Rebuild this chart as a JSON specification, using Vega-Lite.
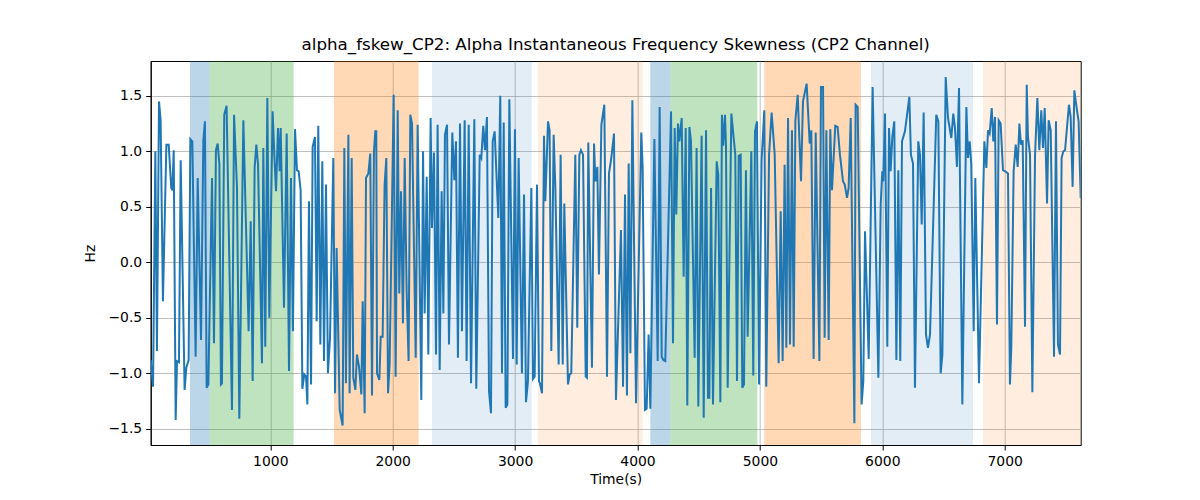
{
  "$schema": "https://vega.github.io/schema/vega-lite/v6.json",
  "width": 930,
  "height": 384,
  "autosize": {"type": "none"},
  "padding": {"left": 150.7, "top": 61, "right": 119.3, "bottom": 55},
  "title": {"text": "alpha_fskew_CP2: Alpha Instantaneous Frequency Skewness (CP2 Channel)", "font": "DejaVu Sans", "fontSize": 16.7, "fontWeight": "normal", "color": "black", "offset": 7},
  "config": {
    "view": {"stroke": "black", "strokeWidth": 1},
    "axis": {"domainColor": "black", "tickColor": "black", "tickSize": 5, "tickWidth": 1, "labelFont": "DejaVu Sans", "labelFontSize": 13.9, "labelColor": "black", "titleFont": "DejaVu Sans", "titleFontSize": 13.9, "titleFontWeight": "normal", "titleColor": "black", "gridColor": "#b0b0b0", "gridWidth": 0.8, "labelPadding": 4}
  },
  "datasets": {
    "spans": [
      {"start": 344, "end": 505, "phase": "A"},
      {"start": 505, "end": 1191, "phase": "B"},
      {"start": 1520, "end": 2212, "phase": "C"},
      {"start": 2321, "end": 3135, "phase": "D"},
      {"start": 3187, "end": 4042, "phase": "E"},
      {"start": 4105, "end": 4268, "phase": "A"},
      {"start": 4268, "end": 4979, "phase": "B"},
      {"start": 5036, "end": 5826, "phase": "C"},
      {"start": 5908, "end": 6741, "phase": "D"},
      {"start": 6823, "end": 7621, "phase": "E"}
    ],
    "series": [
      {"t":23,"v":-0.88},{"t":42,"v":-1.12},{"t":61,"v":1.0},{"t":74,"v":-0.8},{"t":91,"v":1.45},{"t":104,"v":1.28},{"t":123,"v":-0.35},{"t":151,"v":1.06},{"t":170,"v":1.06},{"t":191,"v":0.67},{"t":200,"v":0.65},{"t":211,"v":1.01},{"t":227,"v":-1.42},{"t":238,"v":-0.89},{"t":254,"v":-0.9},{"t":268,"v":0.92},{"t":300,"v":-1.15},{"t":314,"v":-0.95},{"t":333,"v":-0.88},{"t":347,"v":1.11},{"t":363,"v":1.09},{"t":390,"v":-0.85},{"t":407,"v":0.76},{"t":434,"v":-0.7},{"t":453,"v":1.1},{"t":466,"v":1.27},{"t":480,"v":-1.13},{"t":494,"v":-1.1},{"t":524,"v":0.76},{"t":540,"v":-0.73},{"t":556,"v":1.01},{"t":570,"v":1.07},{"t":584,"v":0.89},{"t":597,"v":-1.1},{"t":605,"v":-1.09},{"t":624,"v":1.33},{"t":643,"v":1.41},
      {"t":687,"v":-1.33},{"t":704,"v":1.33},{"t":728,"v":0.67},{"t":747,"v":-1.41},{"t":780,"v":1.28},{"t":823,"v":-0.62},{"t":840,"v":0.37},{"t":856,"v":-1.07},{"t":872,"v":0.85},{"t":886,"v":1.06},{"t":900,"v":0.88},{"t":932,"v":-0.91},{"t":943,"v":1.03},{"t":959,"v":-0.76},{"t":976,"v":1.48},{"t":992,"v":-0.5},{"t":1019,"v":1.36},{"t":1033,"v":0.97},{"t":1047,"v":0.64},{"t":1063,"v":1.21},{"t":1077,"v":0.82},{"t":1085,"v":1.21},{"t":1112,"v":-0.41},{"t":1134,"v":1.16},{"t":1153,"v":-0.98},{"t":1169,"v":0.76},{"t":1185,"v":-0.62},{"t":1202,"v":1.2},{"t":1218,"v":0.83},{"t":1232,"v":0.82},{"t":1248,"v":0.65},{"t":1262,"v":-1.14},{"t":1278,"v":-1.01},{"t":1292,"v":-1.03},
      {"t":1303,"v":-1.28},{"t":1316,"v":0.55},{"t":1333,"v":-1.1},{"t":1346,"v":1.04},{"t":1365,"v":1.13},{"t":1379,"v":-0.53},{"t":1392,"v":1.23},{"t":1409,"v":-0.74},{"t":1425,"v":0.91},{"t":1439,"v":-0.89},{"t":1455,"v":0.7},{"t":1471,"v":-1.0},{"t":1488,"v":-0.68},{"t":1515,"v":0.94},{"t":1529,"v":-1.18},{"t":1542,"v":0.13},{"t":1567,"v":-1.33},{"t":1591,"v":-1.47},{"t":1605,"v":1.03},{"t":1618,"v":-1.09},{"t":1638,"v":1.15},{"t":1648,"v":-1.18},{"t":1665,"v":0.94},{"t":1678,"v":-1.04},{"t":1695,"v":-1.15},{"t":1708,"v":-0.83},{"t":1725,"v":-0.94},{"t":1744,"v":-1.19},{"t":1755,"v":-0.35},{"t":1771,"v":-1.36},{"t":1782,"v":0.76},{"t":1801,"v":0.8},{"t":1817,"v":0.98},{"t":1831,"v":-1.2},{"t":1847,"v":1.0},{"t":1858,"v":1.18},{"t":1866,"v":1.18},{"t":1872,"v":-1.0},{"t":1891,"v":-1.06},{"t":1902,"v":-0.67},{"t":1918,"v":-0.67},
      {"t":1934,"v":0.7},{"t":1948,"v":0.94},{"t":1962,"v":-1.18},{"t":1975,"v":-0.92},{"t":2008,"v":1.51},{"t":2024,"v":-1.03},{"t":2041,"v":1.37},{"t":2054,"v":-0.28},{"t":2068,"v":0.64},{"t":2084,"v":-0.55},{"t":2098,"v":0.94},{"t":2114,"v":-0.26},{"t":2130,"v":-0.89},{"t":2144,"v":1.33},{"t":2158,"v":1.25},{"t":2188,"v":-0.86},{"t":2204,"v":1.24},{"t":2234,"v":-1.24},{"t":2248,"v":1.0},{"t":2261,"v":-0.46},{"t":2278,"v":0.77},{"t":2291,"v":-0.83},{"t":2310,"v":1.3},{"t":2321,"v":0.31},{"t":2337,"v":0.99},{"t":2354,"v":-0.83},{"t":2367,"v":1.24},{"t":2384,"v":-0.97},{"t":2400,"v":0.64},{"t":2414,"v":-0.46},{"t":2427,"v":1.15},{"t":2444,"v":1.24},{"t":2460,"v":-0.74},{"t":2487,"v":1.17},{"t":2504,"v":0.74},{"t":2517,"v":1.09},{"t":2533,"v":-0.86},{"t":2550,"v":1.25},
      {"t":2566,"v":-0.62},{"t":2588,"v":1.28},{"t":2604,"v":-0.89},{"t":2621,"v":1.24},{"t":2640,"v":-1.09},{"t":2667,"v":1.29},{"t":2683,"v":-1.14},{"t":2711,"v":0.97},{"t":2724,"v":0.94},{"t":2740,"v":1.23},{"t":2754,"v":1.01},{"t":2770,"v":1.31},{"t":2787,"v":-1.16},{"t":2803,"v":-1.36},{"t":2817,"v":1.09},{"t":2833,"v":1.18},{"t":2863,"v":0.4},{"t":2879,"v":1.5},{"t":2893,"v":-1.0},{"t":2907,"v":1.26},{"t":2923,"v":-1.31},{"t":2937,"v":-1.28},{"t":2953,"v":1.47},{"t":2983,"v":-0.87},{"t":2999,"v":1.2},{"t":3013,"v":-0.92},{"t":3029,"v":0.94},{"t":3056,"v":-1.0},{"t":3073,"v":0.61},{"t":3089,"v":-1.26},{"t":3105,"v":-1.07},{"t":3133,"v":0.67},{"t":3146,"v":-1.05},{"t":3160,"v":-1.03},{"t":3179,"v":0.7},{"t":3195,"v":-1.07},
      {"t":3203,"v":-1.09},{"t":3220,"v":-1.18},{"t":3236,"v":1.14},{"t":3247,"v":0.55},{"t":3269,"v":1.27},{"t":3282,"v":1.19},{"t":3296,"v":-0.8},{"t":3315,"v":1.15},{"t":3329,"v":0.67},{"t":3356,"v":-0.92},{"t":3372,"v":0.97},{"t":3389,"v":-0.92},{"t":3402,"v":0.53},{"t":3432,"v":-1.1},{"t":3446,"v":-1.01},{"t":3459,"v":-1.0},{"t":3492,"v":0.97},{"t":3508,"v":-0.59},{"t":3525,"v":0.97},{"t":3538,"v":1.01},{"t":3555,"v":0.97},{"t":3577,"v":-1.03},{"t":3587,"v":-1.04},{"t":3598,"v":1.08},{"t":3628,"v":-0.95},{"t":3645,"v":1.07},{"t":3656,"v":0.73},{"t":3672,"v":0.86},{"t":3685,"v":-0.11},{"t":3705,"v":1.24},{"t":3729,"v":1.42},{"t":3751,"v":-1.03},{"t":3767,"v":0.8},{"t":3786,"v":0.94},{"t":3808,"v":1.16},{"t":3824,"v":-1.24},
      {"t":3865,"v":0.29},{"t":3882,"v":-1.12},{"t":3898,"v":0.61},{"t":3914,"v":-1.2},{"t":3928,"v":0.89},{"t":3942,"v":-0.82},{"t":3958,"v":1.46},{"t":3988,"v":-1.27},{"t":4031,"v":1.17},{"t":4042,"v":0.86},{"t":4061,"v":-1.33},{"t":4075,"v":-1.32},{"t":4091,"v":-0.65},{"t":4105,"v":-1.32},{"t":4138,"v":1.11},{"t":4165,"v":-0.89},{"t":4181,"v":1.4},{"t":4198,"v":-0.85},{"t":4211,"v":-0.88},{"t":4227,"v":-0.89},{"t":4274,"v":1.36},{"t":4290,"v":-0.73},{"t":4304,"v":1.21},{"t":4317,"v":0.43},{"t":4331,"v":1.25},{"t":4342,"v":1.09},{"t":4361,"v":1.3},{"t":4377,"v":-0.13},{"t":4394,"v":1.21},{"t":4407,"v":-1.29},{"t":4424,"v":1.22},{"t":4437,"v":1.09},{"t":4467,"v":-0.86},
      {"t":4483,"v":1.03},{"t":4497,"v":-1.3},{"t":4524,"v":1.14},{"t":4541,"v":-1.4},{"t":4560,"v":1.19},{"t":4576,"v":-1.22},{"t":4587,"v":-1.22},{"t":4601,"v":0.67},{"t":4617,"v":-1.28},{"t":4647,"v":0.91},{"t":4660,"v":0.79},{"t":4677,"v":-1.26},{"t":4690,"v":1.33},{"t":4701,"v":1.05},{"t":4715,"v":1.33},{"t":4723,"v":1.06},{"t":4737,"v":-1.13},{"t":4767,"v":1.34},{"t":4783,"v":1.15},{"t":4799,"v":0.97},{"t":4813,"v":-1.07},{"t":4827,"v":0.96},{"t":4843,"v":0.97},{"t":4856,"v":-1.13},{"t":4870,"v":-1.1},{"t":4886,"v":0.83},{"t":4900,"v":-0.67},{"t":4930,"v":1.0},{"t":4946,"v":-1.02},{"t":4960,"v":1.18},{"t":4976,"v":1.27},{"t":4993,"v":-1.1},{"t":5014,"v":0.92},{"t":5036,"v":1.37},{"t":5052,"v":-1.12},{"t":5075,"v":0.97},{"t":5096,"v":1.35},
      {"t":5121,"v":0.97},{"t":5153,"v":-0.91},{"t":5170,"v":0.46},{"t":5186,"v":-0.89},{"t":5202,"v":0.88},{"t":5216,"v":-0.77},{"t":5230,"v":1.3},{"t":5246,"v":-0.74},{"t":5262,"v":1.19},{"t":5276,"v":-0.76},{"t":5290,"v":1.28},{"t":5309,"v":1.51},{"t":5336,"v":0.73},{"t":5352,"v":1.45},{"t":5382,"v":1.61},{"t":5407,"v":1.07},{"t":5420,"v":1.19},{"t":5439,"v":-0.87},{"t":5456,"v":1.17},{"t":5486,"v":-0.89},{"t":5499,"v":1.58},{"t":5516,"v":1.58},{"t":5529,"v":-0.68},{"t":5543,"v":1.19},{"t":5562,"v":-0.7},{"t":5575,"v":1.2},{"t":5589,"v":0.65},{"t":5616,"v":1.23},{"t":5635,"v":1.22},{"t":5654,"v":0.97},{"t":5679,"v":0.73},{"t":5693,"v":0.7},{"t":5712,"v":0.58},{"t":5725,"v":0.67},{"t":5742,"v":1.3},
      {"t":5772,"v":-1.45},{"t":5782,"v":1.42},{"t":5799,"v":1.4},{"t":5831,"v":-1.28},{"t":5845,"v":-1.07},{"t":5859,"v":0.28},{"t":5889,"v":-0.87},{"t":5921,"v":1.58},{"t":5968,"v":-1.04},{"t":5987,"v":0.52},{"t":6000,"v":0.82},{"t":6008,"v":0.73},{"t":6022,"v":1.34},{"t":6041,"v":-0.76},{"t":6055,"v":1.21},{"t":6068,"v":0.82},{"t":6082,"v":1.13},{"t":6098,"v":1.27},{"t":6115,"v":-0.88},{"t":6131,"v":0.83},{"t":6147,"v":-0.89},{"t":6161,"v":1.09},{"t":6185,"v":1.18},{"t":6221,"v":1.49},{"t":6234,"v":0.97},{"t":6251,"v":0.89},{"t":6267,"v":-1.13},{"t":6294,"v":1.09},{"t":6308,"v":0.97},{"t":6322,"v":0.34},{"t":6338,"v":1.35},{"t":6357,"v":-0.65},{"t":6373,"v":-0.77},{"t":6390,"v":-0.65},
      {"t":6441,"v":1.33},{"t":6458,"v":1.27},{"t":6477,"v":-1.0},{"t":6491,"v":-0.83},{"t":6518,"v":1.67},{"t":6537,"v":1.3},{"t":6564,"v":1.12},{"t":6580,"v":1.34},{"t":6594,"v":1.21},{"t":6610,"v":0.86},{"t":6627,"v":1.57},{"t":6654,"v":-1.28},{"t":6687,"v":1.4},{"t":6700,"v":0.94},{"t":6714,"v":1.09},{"t":6727,"v":0.88},{"t":6747,"v":-0.62},{"t":6760,"v":0.76},{"t":6790,"v":-1.09},{"t":6834,"v":1.09},{"t":6850,"v":0.85},{"t":6864,"v":1.19},{"t":6877,"v":1.16},{"t":6894,"v":1.39},{"t":6907,"v":1.09},{"t":6921,"v":1.31},{"t":6937,"v":-0.56},{"t":6951,"v":1.28},{"t":6967,"v":1.25},{"t":6986,"v":0.83},{"t":7005,"v":0.82},{"t":7027,"v":0.8},
      {"t":7043,"v":-1.1},{"t":7054,"v":-0.77},{"t":7073,"v":0.82},{"t":7090,"v":1.06},{"t":7106,"v":0.86},{"t":7120,"v":1.25},{"t":7133,"v":1.06},{"t":7147,"v":1.1},{"t":7166,"v":-0.58},{"t":7180,"v":1.6},{"t":7190,"v":1.13},{"t":7207,"v":0.97},{"t":7226,"v":-1.17},{"t":7248,"v":0.97},{"t":7267,"v":1.48},{"t":7283,"v":1.01},{"t":7299,"v":1.37},{"t":7313,"v":1.03},{"t":7327,"v":1.39},{"t":7346,"v":0.53},{"t":7359,"v":1.28},{"t":7376,"v":1.19},{"t":7403,"v":-0.85},{"t":7419,"v":1.27},{"t":7435,"v":-0.74},{"t":7452,"v":-0.83},{"t":7465,"v":0.94},{"t":7479,"v":1.0},{"t":7493,"v":1.01},{"t":7525,"v":1.42},{"t":7539,"v":1.31},{"t":7555,"v":0.68},{"t":7569,"v":1.55},{"t":7588,"v":1.39},{"t":7604,"v":1.27},{"t":7621,"v":0.58}
    ]
  },
  "layer": [
    {
      "data": {"name": "spans"},
      "transform": [{"filter": "datum.phase === 'A' || datum.phase === 'B' || datum.phase === 'C'"}],
      "mark": {"type": "rect", "opacity": 0.3},
      "encoding": {
        "x": {"field": "start", "type": "quantitative", "scale": {"domain": [23, 7621], "nice": false, "zero": false},
              "axis": {"title": "Time(s)", "values": [1000, 2000, 3000, 4000, 5000, 6000, 7000], "format": "d", "grid": true, "titlePadding": 5}},
        "x2": {"field": "end"},
        "y": {"value": 0},
        "y2": {"value": "height"},
        "color": {"field": "phase", "type": "nominal", "scale": {"domain": ["A", "B", "C", "D", "E"], "range": ["#1f77b4", "#2ca02c", "#ff7f0e", "#1f77b4", "#ff7f0e"]}, "legend": null}
      }
    },
    {
      "data": {"name": "spans"},
      "transform": [{"filter": "datum.phase === 'D' || datum.phase === 'E'"}],
      "mark": {"type": "rect", "opacity": 0.13},
      "encoding": {
        "x": {"field": "start", "type": "quantitative",
              "axis": {"title": "Time(s)", "values": [1000, 2000, 3000, 4000, 5000, 6000, 7000], "format": "d", "grid": true, "titlePadding": 5}},
        "x2": {"field": "end"},
        "y": {"value": 0},
        "y2": {"value": "height"},
        "color": {"field": "phase", "type": "nominal", "scale": {"domain": ["A", "B", "C", "D", "E"], "range": ["#1f77b4", "#2ca02c", "#ff7f0e", "#1f77b4", "#ff7f0e"]}, "legend": null}
      }
    },
    {
      "data": {"name": "series"},
      "mark": {"type": "line", "color": "#1f77b4", "strokeWidth": 2, "clip": true},
      "encoding": {
        "x": {"field": "t", "type": "quantitative",
              "axis": {"title": "Time(s)", "values": [1000, 2000, 3000, 4000, 5000, 6000, 7000], "format": "d", "grid": true, "titlePadding": 5}},
        "y": {"field": "v", "type": "quantitative", "scale": {"domain": [-1.646, 1.814], "nice": false, "zero": false},
              "axis": {"title": "Hz", "values": [-1.5, -1.0, -0.5, 0, 0.5, 1.0, 1.5], "labelExpr": "replace(format(datum.value, '.1f'), '-', '−')", "grid": true, "titlePadding": 10}}
      }
    }
  ]
}
